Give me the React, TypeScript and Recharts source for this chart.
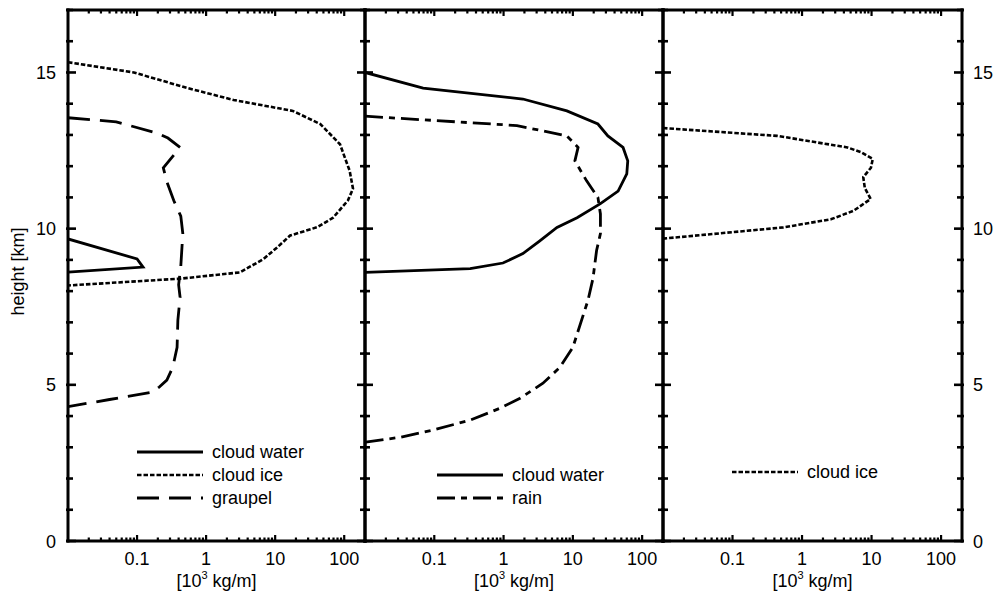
import React from 'react';
import { ScatterChart, Scatter, XAxis, YAxis, Legend } from 'recharts';

const FONT = '"Liberation Sans", Arial, Helvetica, sans-serif';
const FS = 18;

// ---------- axis ticks ----------
const HEIGHT_TICKS = [0, 1, 2, 3, 4, 5, 6, 7, 8, 9, 10, 11, 12, 13, 14, 15, 16, 17];
const HEIGHT_LABELS = [0, 5, 10, 15];
const MASS_TICKS = [
  0.02, 0.03, 0.04, 0.05, 0.06, 0.07, 0.08, 0.09,
  0.1, 0.2, 0.3, 0.4, 0.5, 0.6, 0.7, 0.8, 0.9,
  1, 2, 3, 4, 5, 6, 7, 8, 9,
  10, 20, 30, 40, 50, 60, 70, 80, 90,
  100,
];
const MASS_LABELS = [0.1, 1, 10, 100];
const MASS_LABEL_TEXT = ['0.1', '1', '10', '100'];

// ---------- data: x = mass [10^3 kg/m], y = height [km] ----------
const p1CloudWater = [
  { x: 0.01, y: 9.67 }, { x: 0.1, y: 9.03 }, { x: 0.122, y: 8.77 }, { x: 0.01, y: 8.61 },
];
const p1CloudIce = [
  { x: 0.01, y: 15.33 }, { x: 0.09, y: 15.0 }, { x: 0.54, y: 14.5 }, { x: 2.5, y: 14.12 },
  { x: 18, y: 13.77 }, { x: 45, y: 13.35 }, { x: 87, y: 12.7 }, { x: 120, y: 11.85 },
  { x: 134, y: 11.28 }, { x: 113, y: 10.9 }, { x: 69, y: 10.35 }, { x: 41, y: 10.05 },
  { x: 16.5, y: 9.78 }, { x: 10.7, y: 9.4 }, { x: 6.8, y: 9.03 }, { x: 3.1, y: 8.6 },
  { x: 0.43, y: 8.4 }, { x: 0.01, y: 8.18 },
];
const p1Graupel = [
  { x: 0.01, y: 13.55 }, { x: 0.05, y: 13.42 }, { x: 0.2, y: 13.05 }, { x: 0.28, y: 12.9 },
  { x: 0.42, y: 12.6 }, { x: 0.24, y: 11.95 }, { x: 0.27, y: 11.5 }, { x: 0.34, y: 10.9 },
  { x: 0.43, y: 10.4 }, { x: 0.46, y: 9.84 }, { x: 0.43, y: 8.8 }, { x: 0.4, y: 8.2 },
  { x: 0.42, y: 7.8 }, { x: 0.39, y: 7.07 }, { x: 0.38, y: 6.2 }, { x: 0.33, y: 5.57 },
  { x: 0.27, y: 5.15 }, { x: 0.21, y: 4.93 }, { x: 0.17, y: 4.77 }, { x: 0.04, y: 4.53 },
  { x: 0.01, y: 4.3 },
];
const p2CloudWater = [
  { x: 0.01, y: 15.0 }, { x: 0.069, y: 14.5 }, { x: 1.9, y: 14.15 }, { x: 8.2, y: 13.77 },
  { x: 23, y: 13.35 }, { x: 32, y: 12.97 }, { x: 53, y: 12.6 }, { x: 62, y: 12.17 },
  { x: 60, y: 11.75 }, { x: 45, y: 11.2 }, { x: 25, y: 10.8 }, { x: 11.5, y: 10.35 },
  { x: 5.9, y: 10.04 }, { x: 3.3, y: 9.6 }, { x: 1.9, y: 9.2 }, { x: 0.98, y: 8.9 },
  { x: 0.33, y: 8.72 }, { x: 0.01, y: 8.6 },
];
const p2Rain = [
  { x: 0.01, y: 13.6 }, { x: 1.56, y: 13.3 }, { x: 8.2, y: 12.97 }, { x: 11.9, y: 12.6 },
  { x: 10.7, y: 12.17 }, { x: 15.8, y: 11.53 }, { x: 23, y: 11.0 }, { x: 25, y: 10.47 },
  { x: 25, y: 9.84 }, { x: 22, y: 9.3 }, { x: 19.5, y: 8.4 }, { x: 16.5, y: 7.7 },
  { x: 10, y: 6.2 }, { x: 6.5, y: 5.56 }, { x: 3.7, y: 5.05 }, { x: 1.73, y: 4.57 },
  { x: 0.89, y: 4.25 }, { x: 0.33, y: 3.87 }, { x: 0.095, y: 3.55 }, { x: 0.032, y: 3.32 },
  { x: 0.01, y: 3.16 },
];
const p3CloudIce = [
  { x: 0.01, y: 13.22 }, { x: 0.44, y: 12.97 }, { x: 4.5, y: 12.6 }, { x: 7, y: 12.45 },
  { x: 10.4, y: 12.23 }, { x: 9.8, y: 11.95 }, { x: 7.6, y: 11.65 }, { x: 8, y: 11.3 },
  { x: 9.7, y: 10.95 }, { x: 5.5, y: 10.57 }, { x: 2.6, y: 10.3 }, { x: 0.54, y: 10.04 },
  { x: 0.01, y: 9.68 },
];

// ---------- styles ----------
const STYLE: Record<string, { dash?: string; w: number }> = {
  'cloud water': { w: 2.8 },
  'cloud ice': { dash: '4.5 2', w: 2.6 },
  graupel: { dash: '22 10', w: 2.8 },
  rain: { dash: '18 6 6 6', w: 2.8 },
};

const AXIS_LINE = { stroke: '#000', strokeWidth: 3, strokeLinecap: 'square' as const };
const M = 10;

const near = (list: number[], v: number) => list.some((m) => Math.abs(m - v) < 1e-9);

function makeTick(side: 'left' | 'right' | 'top' | 'bottom', showLabels: boolean) {
  return (props: any) => {
    const { x, y, payload } = props;
    const v = payload.value;
    if (side === 'left' || side === 'right') {
      const major = near(HEIGHT_LABELS, v);
      const len = major ? 8 : 5;
      const sgn = side === 'left' ? 1 : -1;
      const ax = side === 'left' ? x + M : x - M;
      return (
        <g>
          <line x1={ax - sgn * 2} y1={y} x2={ax + sgn * len} y2={y} stroke="#000" strokeWidth={2.6} />
          {showLabels && major ? (
            <text
              x={side === 'left' ? ax - 12 : ax + 11}
              y={y + 6.5}
              textAnchor={side === 'left' ? 'end' : 'start'}
              fontSize={FS}
              fontFamily={FONT}
              fill="#000"
            >
              {v}
            </text>
          ) : null}
        </g>
      );
    }
    const major = near(MASS_LABELS, v);
    const len = major ? 6 : 3.5;
    const sgn = side === 'bottom' ? -1 : 1;
    const ay = side === 'bottom' ? y - M : y + M;
    const idx = MASS_LABELS.findIndex((m) => Math.abs(m - v) < 1e-9);
    return (
      <g>
        <line x1={x} y1={ay} x2={x} y2={ay + sgn * len} stroke="#000" strokeWidth={2.2} />
        {showLabels && idx >= 0 ? (
          <text x={x} y={ay + 24} textAnchor="middle" fontSize={FS} fontFamily={FONT} fill="#000">
            {MASS_LABEL_TEXT[idx]}
          </text>
        ) : null}
      </g>
    );
  };
}

const XTitle = (props: any) => {
  const vb = props.viewBox || {};
  const cx = vb.x + vb.width / 2;
  const by = vb.y + 46;
  return (
    <text x={cx} y={by} textAnchor="middle" fontSize={FS} fontFamily={FONT} fill="#000">
      [10
      <tspan fontSize={11} dy={-8}>3</tspan>
      <tspan dy={8}> kg/m]</tspan>
    </text>
  );
};

const YTitle = (props: any) => {
  const vb = props.viewBox || {};
  const cx = vb.x + 18;
  const cy = vb.y + vb.height / 2 - 4;
  return (
    <text
      x={cx}
      y={cy}
      transform={`rotate(-90, ${cx}, ${cy})`}
      textAnchor="middle"
      dominantBaseline="central"
      fontSize={FS}
      fontFamily={FONT}
      fill="#000"
    >
      height [km]
    </text>
  );
};

const renderNone = () => <g />;

type Series = { name: string; data: { x: number; y: number }[] };

function makeLegend(order: string[]) {
  return (props: any) => {
    const payload: any[] = props.payload || [];
    const names = order.filter((n) => payload.some((p) => p.value === n));
    return (
      <div style={{ fontFamily: FONT, fontSize: FS, color: '#000' }}>
        {names.map((n) => (
          <div key={n} style={{ display: 'flex', alignItems: 'center', height: 23 }}>
            <svg width={66} height={10} style={{ display: 'block' }}>
              <line
                x1={0}
                y1={5}
                x2={66}
                y2={5}
                stroke="#000"
                strokeWidth={STYLE[n].w}
                strokeDasharray={STYLE[n].dash}
              />
            </svg>
            <span style={{ marginLeft: 9, lineHeight: '23px' }}>{n}</span>
          </div>
        ))}
      </div>
    );
  };
}

function Panel(props: {
  left: number;
  yLeftW: number;
  plotW: number;
  yRightW: number;
  series: Series[];
  leftLabels: boolean;
  rightLabels: boolean;
  yTitle: boolean;
  legendLeft: number;
  legendTop: number;
}) {
  const { left, yLeftW, plotW, yRightW, series, leftLabels, rightLabels, yTitle, legendLeft, legendTop } = props;
  const width = yLeftW + plotW + yRightW;
  return (
    <div style={{ position: 'absolute', left, top: 0 }}>
      <ScatterChart width={width} height={598} margin={{ top: 0, right: 0, bottom: 0, left: 0 }}>
        <XAxis
          xAxisId="b"
          orientation="bottom"
          type="number"
          dataKey="x"
          scale="log"
          domain={[0.01, 200]}
          allowDataOverflow
          ticks={MASS_TICKS}
          interval={0}
          height={57}
          tickSize={0}
          tickMargin={M}
          tickLine={false}
          axisLine={AXIS_LINE}
          tick={makeTick('bottom', true)}
          label={<XTitle />}
        />
        <XAxis
          xAxisId="t"
          orientation="top"
          type="number"
          dataKey="x"
          scale="log"
          domain={[0.01, 200]}
          allowDataOverflow
          ticks={MASS_TICKS}
          interval={0}
          height={10}
          tickSize={0}
          tickMargin={M}
          tickLine={false}
          axisLine={AXIS_LINE}
          tick={makeTick('top', false)}
        />
        <YAxis
          yAxisId="l"
          orientation="left"
          type="number"
          dataKey="y"
          domain={[0, 17]}
          allowDataOverflow
          ticks={HEIGHT_TICKS}
          interval={0}
          width={yLeftW}
          tickSize={0}
          tickMargin={M}
          tickLine={false}
          axisLine={AXIS_LINE}
          tick={makeTick('left', leftLabels)}
          label={yTitle ? <YTitle /> : undefined}
        />
        <YAxis
          yAxisId="r"
          orientation="right"
          type="number"
          dataKey="y"
          domain={[0, 17]}
          allowDataOverflow
          ticks={HEIGHT_TICKS}
          interval={0}
          width={yRightW}
          tickSize={0}
          tickMargin={M}
          tickLine={false}
          axisLine={AXIS_LINE}
          tick={makeTick('right', rightLabels)}
        />
        {series.map((s) => (
          <Scatter
            key={s.name}
            name={s.name}
            data={s.data}
            xAxisId="b"
            yAxisId="l"
            fill="#000"
            line={{ stroke: '#000', strokeWidth: STYLE[s.name].w, strokeDasharray: STYLE[s.name].dash }}
            lineType="joint"
            shape={renderNone}
            legendType="line"
            isAnimationActive={false}
          />
        ))}
        <Legend
          layout="vertical"
          align="center"
          verticalAlign="middle"
          wrapperStyle={{ position: 'absolute', left: legendLeft, top: legendTop, width: 220 }}
          content={makeLegend(series.map((s) => s.name))}
        />
      </ScatterChart>
    </div>
  );
}

export default function App() {
  return (
    <div style={{ position: 'absolute', left: 0, top: 0, width: 998, height: 598, background: '#fff' }}>
      <Panel
        left={0}
        yLeftW={68}
        plotW={297}
        yRightW={10}
        series={[
          { name: 'cloud water', data: p1CloudWater },
          { name: 'cloud ice', data: p1CloudIce },
          { name: 'graupel', data: p1Graupel },
        ]}
        leftLabels
        rightLabels={false}
        yTitle
        legendLeft={137}
        legendTop={440.5}
      />
      <Panel
        left={355}
        yLeftW={10}
        plotW={298}
        yRightW={10}
        series={[
          { name: 'cloud water', data: p2CloudWater },
          { name: 'rain', data: p2Rain },
        ]}
        leftLabels={false}
        rightLabels={false}
        yTitle={false}
        legendLeft={82}
        legendTop={463.5}
      />
      <Panel
        left={653}
        yLeftW={10}
        plotW={299}
        yRightW={36}
        series={[{ name: 'cloud ice', data: p3CloudIce }]}
        leftLabels={false}
        rightLabels
        yTitle={false}
        legendLeft={79}
        legendTop={460.5}
      />
    </div>
  );
}
